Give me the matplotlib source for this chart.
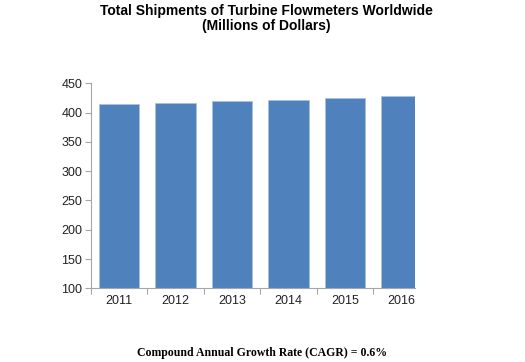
import matplotlib
matplotlib.use('Agg')
import matplotlib.pyplot as plt
from matplotlib.ticker import FixedLocator

years = ['2011', '2012', '2013', '2014', '2015', '2016']
shipments = [414, 417, 419, 422, 425, 428]

titleText = 'Total Shipments of Turbine Flowmeters Worldwide\n(Millions of Dollars)'
cagrText = 'Compound Annual Growth Rate (CAGR) = 0.6%'

plt.rcParams['font.family'] = ['Liberation Sans', 'DejaVu Sans']

fig = plt.figure(figsize=(5.25, 3.62), dpi=100)
ax = fig.add_axes([0.1728, 0.2036, 0.6177, 0.5663])

xs = list(range(len(years)))
ax.bar(xs, shipments, width=0.71, color='#4F81BD', edgecolor='#A9C1E0', linewidth=0.6, zorder=2)

ax.set_ylim(100, 450)
ax.set_yticks(range(100, 451, 50))
ax.set_xlim(-0.5, 5.24)
ax.set_xticks(xs)
ax.set_xticklabels(years)
ax.xaxis.set_minor_locator(FixedLocator([x - 0.5 for x in xs]))
ax.tick_params(axis='x', which='major', length=0, pad=5)
ax.tick_params(axis='x', which='minor', length=4, color='#A6A6A6', width=0.8)
ax.tick_params(axis='y', length=4, color='#A6A6A6', width=0.8, pad=2)
ax.tick_params(labelsize=9, labelcolor='#222222')

for side in ['top', 'right']:
    ax.spines[side].set_visible(False)
for side in ['left', 'bottom']:
    ax.spines[side].set_color('#A6A6A6')
    ax.spines[side].set_linewidth(0.8)

fig.text(0.508, 0.988, titleText, ha='center', va='top', fontsize=10,
         fontweight='bold', linespacing=1.05)
fig.text(0.5, 0.008, cagrText, ha='center', va='bottom', fontsize=8.5,
         fontweight='bold', family=['Liberation Serif', 'DejaVu Serif'])

fig.savefig('out.png', dpi=100)
